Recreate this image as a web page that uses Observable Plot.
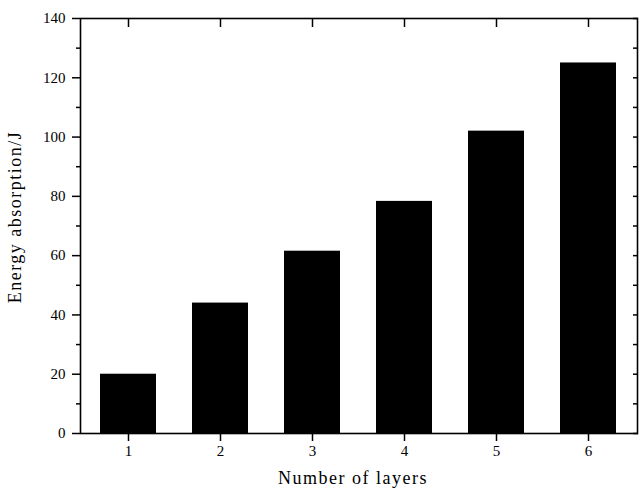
<!DOCTYPE html>
<html>
<head>
<meta charset="utf-8">
<script src="https://cdn.jsdelivr.net/npm/d3@7"></script>
<script src="https://cdn.jsdelivr.net/npm/@observablehq/plot@0.6"></script>
<style>
  html, body { margin: 0; padding: 0; background: #fff; }
  #chart svg { display: block; }
  #chart svg text { font-family: "Liberation Serif", serif; }
</style>
</head>
<body>
<div id="chart"></div>
<script>
const layers = ["1", "2", "3", "4", "5", "6"];
const energy = [20, 44, 61.5, 78.3, 102, 125];
const yMajorTicks = [0, 20, 40, 60, 80, 100, 120, 140];
const yMinorTicks = [10, 30, 50, 70, 90, 110, 130];
const xLabel = "Number of layers";
const yLabel = "Energy absorption/J";

const data = layers.map((l, i) => ({layer: l, value: energy[i]}));
const allY = [...yMajorTicks, ...yMinorTicks];

const chart = Plot.plot({
  width: 641,
  height: 489,
  marginLeft: 80,
  marginRight: 4,
  marginTop: 18,
  marginBottom: 56,
  style: {fontFamily: "Liberation Serif, serif", fontSize: "15px", color: "#000", background: "#fff"},
  x: {domain: layers, paddingInner: 0.39, paddingOuter: 0.195, label: null},
  y: {domain: [0, 140], label: null},
  marks: [
    Plot.barY(data, {x: "layer", y: "value", fill: "#000"}),
    Plot.frame({stroke: "#000", strokeWidth: 1.6}),
    Plot.axisY(yMajorTicks, {anchor: "left", tickSize: 8, tickPadding: 7, strokeWidth: 1.5, label: null, fill: "#000", fontSize: 15}),
    Plot.axisY(yMinorTicks, {anchor: "left", tickSize: 4, tickFormat: () => "", strokeWidth: 1.5, label: null}),
    Plot.axisY(allY, {anchor: "right", tickSize: 5, dx: -5, tickFormat: () => "", strokeWidth: 1.5, label: null}),
    Plot.axisX(layers, {anchor: "bottom", tickSize: 8, tickPadding: 4, strokeWidth: 1.5, label: null, fill: "#000", fontSize: 15}),
    Plot.axisX(layers, {anchor: "top", tickSize: 8, dy: 8, tickFormat: () => "", strokeWidth: 1.5, label: null}),
    Plot.text([xLabel], {frameAnchor: "bottom", textAnchor: "middle", lineAnchor: "bottom", dx: -6, dy: 50, fontSize: 18, text: d => d, fill: "#000"}),
    Plot.text([yLabel], {frameAnchor: "left", textAnchor: "middle", lineAnchor: "middle", rotate: -90, dx: -65, dy: -9, fontSize: 18, text: d => d, fill: "#000"})
  ]
});
chart.querySelectorAll("text").forEach(t => {
  if (t.textContent === xLabel || t.textContent === yLabel) t.style.letterSpacing = "1.5px";
});
document.getElementById("chart").appendChild(chart);
</script>
</body>
</html>
